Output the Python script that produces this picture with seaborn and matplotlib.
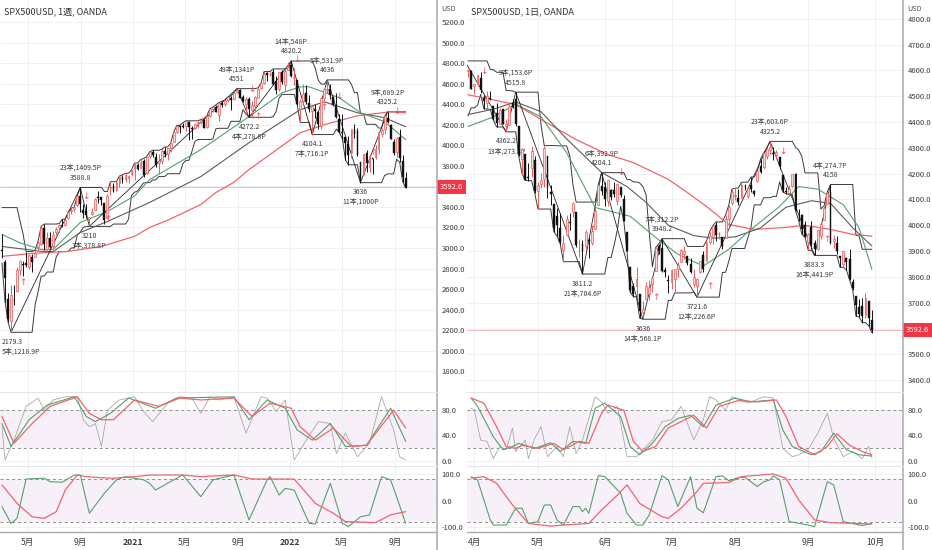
import numpy as np
import pandas as pd
import matplotlib
matplotlib.use("Agg")
import matplotlib.pyplot as plt
import matplotlib.transforms as mtransforms
from matplotlib.lines import Line2D
import seaborn as sns

sns.set_style("white")
plt.rcParams["font.family"] = ["Noto Sans CJK JP", "DejaVu Sans"]
plt.rcParams["axes.unicode_minus"] = False

# ------------------ weekly chart (left) ------------------ #
w_start = "2020-03-02"
w_open = [2974, 2863, 2508, 2290, 2498, 2578, 2782, 2846, 2854, 2815,
          2915, 2913, 3005, 3038, 3199, 2994, 3094, 3018, 3155, 3205,
          3224, 3219, 3289, 3356, 3380, 3419, 3509, 3370, 3364, 3285,
          3333, 3367, 3500, 3494, 3441, 3296, 3584, 3600, 3566, 3634,
          3694, 3675, 3684, 3723, 3764, 3803, 3781, 3844, 3732, 3892,
          3939, 3885, 3830, 3844, 3943, 3916, 3969, 4034, 4125, 4183,
          4185, 4192, 4228, 4169, 4170, 4216, 4229, 4248, 4173, 4284,
          4356, 4373, 4296, 4409, 4406, 4438, 4461, 4450, 4514, 4535,
          4474, 4402, 4450, 4348, 4385, 4463, 4553, 4610, 4701, 4689,
          4712, 4628, 4548, 4710, 4587, 4733, 4779, 4655, 4632, 4357,
          4431, 4505, 4413, 4332, 4354, 4328, 4188, 4462, 4541, 4547,
          4474, 4385, 4255, 4130, 4081, 4013, 3920, 4151, 4135, 3838,
          3715, 3920, 3792, 3880, 3883, 3965, 4112, 4155, 4270, 4195,
          4034, 3930, 4083, 3849, 3682]
w_high = [3137, 2882, 2562, 2637, 2641, 2818, 2880, 2870, 2965, 2933,
          2945, 2981, 3068, 3211, 3233, 3156, 3155, 3165, 3200, 3238,
          3280, 3272, 3352, 3387, 3399, 3509, 3588.8, 3425, 3428, 3306,
          3393, 3486, 3550, 3493, 3441, 3530, 3645, 3628, 3645, 3701,
          3712, 3727, 3711, 3760, 3827, 3824, 3860, 3871, 3889, 3935,
          3951, 3928, 3915, 3960, 3983, 3978, 4020, 4130, 4191, 4195,
          4218, 4238, 4236, 4186, 4219, 4234, 4250, 4258, 4286, 4355,
          4372, 4393, 4415, 4429, 4441, 4468, 4480, 4513, 4551, 4549,
          4493, 4466, 4465, 4429, 4475, 4559, 4608, 4718, 4715, 4717,
          4743, 4672, 4713, 4731, 4740, 4808, 4820.2, 4749, 4632, 4453,
          4595, 4590, 4490, 4386, 4402, 4329, 4465, 4546, 4636, 4593,
          4478, 4512, 4308, 4307, 4081, 4091, 4158, 4204, 4168, 3838,
          3913, 3950, 3918, 3880, 3999, 4140, 4167, 4280, 4325.2, 4203,
          4062, 4076, 4159, 3906, 3736]
w_low = [2901, 2478, 2280, 2179.3, 2447, 2575, 2740, 2727, 2816, 2797,
         2766, 2913, 2985, 3032, 2984, 2965, 3004, 3000, 3127, 3153,
         3200, 3210, 3284, 3327, 3355, 3411, 3349, 3293, 3292, 3210,
         3324, 3366, 3440, 3417, 3233, 3280, 3512, 3543, 3555, 3595,
         3634, 3647, 3636, 3700, 3663, 3760, 3778, 3695, 3725, 3880,
         3885, 3789, 3723, 3818, 3886, 3853, 3935, 4034, 4119, 4118,
         4164, 4143, 4056, 4061, 4160, 4168, 4208, 4165, 4165, 4278,
         4321, 4323, 4233, 4368, 4386, 4424, 4347, 4442, 4512, 4457,
         4424, 4305, 4272.2, 4278, 4329, 4460, 4551, 4595, 4630, 4672,
         4585, 4495, 4532, 4600, 4531, 4733, 4662, 4582, 4395, 4222,
         4405, 4401, 4326, 4104.1, 4267, 4157, 4161, 4424, 4506, 4450,
         4381, 4267, 4124, 4062, 3859, 3810, 3875, 4074, 3900, 3636,
         3705, 3740, 3742, 3721, 3863, 3910, 4079, 4112, 4218, 4057,
         3907, 3883, 3837, 3647, 3584]
w_close = [2972, 2711, 2305, 2541, 2489, 2790, 2875, 2837, 2831, 2930,
           2864, 2955, 3044, 3194, 3041, 3098, 3009, 3130, 3185, 3225,
           3216, 3271, 3351, 3373, 3397, 3508, 3427, 3341, 3319, 3298,
           3348, 3477, 3484, 3465, 3270, 3509, 3585, 3558, 3638, 3699,
           3663, 3709, 3703, 3756, 3825, 3768, 3841, 3714, 3887, 3934,
           3907, 3811, 3842, 3943, 3913, 3974, 4019, 4129, 4185, 4180,
           4181, 4233, 4174, 4156, 4204, 4230, 4247, 4166, 4281, 4352,
           4370, 4327, 4412, 4395, 4437, 4468, 4442, 4509, 4535, 4458,
           4433, 4455, 4357, 4391, 4471, 4545, 4605, 4697, 4683, 4698,
           4595, 4538, 4712, 4620, 4726, 4766, 4677, 4663, 4398, 4432,
           4501, 4419, 4349, 4385, 4329, 4204, 4463, 4543, 4546, 4488,
           4392, 4272, 4132, 4123, 4024, 3901, 4158, 4109, 3901, 3675,
           3911, 3825, 3899, 3863, 3962, 4130, 4145, 4280, 4228, 4058,
           3924, 4067, 3873, 3693, 3592.6]

w_chan_hi = ([3393] * 6 + [3259, 3137] + [2965] * 3 + [2981, 3068, 3211] + [3233] * 5
             + [3238, 3280, 3280, 3352, 3387, 3399, 3509] + [3588.8] * 8 + [3550, 3550]
             + [3645] * 3 + [3701, 3712, 3727, 3727, 3760, 3827, 3827, 3860, 3871, 3889,
                             3935, 3951, 3951, 3951, 3960, 3983, 3983, 4020, 4130, 4191,
                             4195, 4218, 4238] + [4238] * 4
             + [4250, 4258, 4286, 4355, 4372, 4393, 4415, 4429, 4441, 4468, 4480, 4513]
             + [4551] * 7 + [4559, 4608] + [4718] * 3 + [4743] * 6 + [4820.2] * 8
             + [4749, 4632, 4595, 4595] + [4636] * 8
             + [4593, 4512, 4512, 4308, 4307, 4204, 4204, 4204, 4204, 4168, 4167, 4280]
             + [4325.2] * 7)
w_chan_lo = ([2855, 2478, 2280] + [2179.3] * 8 + [2447, 2575, 2727, 2727] + [2766] * 3
             + [2913] + [2965] * 4 + [3000, 3000, 3127, 3153, 3200, 3210] + [3210] * 8
             + [3233] * 5 + [3280, 3512, 3543, 3555, 3595, 3634, 3636, 3636, 3663, 3663]
             + [3695] * 3 + [3723] * 5 + [3818, 3853, 3853, 3935, 4034] + [4056] * 5
             + [4061, 4160] + [4165] * 4 + [4233] * 4 + [4347, 4305] + [4272.2] * 8
             + [4278, 4329, 4460] + [4495] * 5 + [4395] + [4222] * 4 + [4104.1] * 8
             + [4157, 4124, 4062, 3859] + [3810] * 4 + [3636] * 8 + [3705]
             + [3721] * 3 + [3863, 3837, 3647, 3584])

w_ma_red_idx = [0, 10, 22, 33, 44, 49, 55, 66, 71, 77, 82, 88, 99, 107, 118, 129, 134]
w_ma_red = [2918, 2947, 2967, 3015, 3113, 3200, 3270, 3423, 3540, 3640, 3763, 3889,
            4122, 4200, 4287, 4326, 4316]
w_ma_green_idx = [0, 6, 13, 17, 26, 35, 44, 49, 66, 82, 93, 99, 102, 112, 119, 127, 134]
w_ma_green = [3132, 3050, 2986, 2985, 3249, 3355, 3507, 3666, 3957, 4278, 4511, 4569,
              4569, 4462, 4316, 4230, 4054]
w_ma_gray_idx = [0, 13, 17, 26, 35, 49, 66, 82, 99, 107, 118, 127, 134]
w_ma_gray = [3015, 2967, 2965, 3151, 3258, 3443, 3695, 4025, 4346, 4423, 4316, 4268, 4180]

w_piv_idx = [3, 26, 29, 78, 82, 96, 103, 108, 119, 128]
w_piv_px = [2179.3, 3588.8, 3210, 4551, 4272.2, 4820.2, 4104.1, 4636, 3636, 4325.2]
w_piv_txt = ["2179.3\n5本,1218.9P", "23本,1409.5P\n3588.8", "3210\n3本,378.8P",
             "49本,1341P\n4551", "4272.2\n4本,278.8P", "14本,548P\n4820.2",
             "4104.1\n7本,716.1P", "5本,531.9P\n4636", "3636\n11本,1000P",
             "9本,689.2P\n4325.2"]
w_up_idx = [7, 35, 85, 107, 123]
w_up_px = [2666, 3278, 4278, 4365, 3928]
w_dn_idx = [28, 83, 98, 112, 131]
w_dn_px = [3501, 4540, 4831, 4472, 4326]

w_k1_red_idx = [0, 4, 10, 16, 25, 29, 33, 37, 44, 52, 59, 66, 77, 83, 89, 96, 99, 104,
                110, 116, 121, 130, 134]
w_k1_red = [69, 27, 58, 85, 100, 74, 64, 64, 95, 85, 98, 95, 98, 69, 90, 82, 53, 32, 51,
            22, 24, 79, 51]
w_k1_green_idx = [0, 3, 9, 15, 24, 28, 31, 36, 42, 51, 58, 77, 82, 88, 94, 98, 103, 109,
                  114, 121, 129, 134]
w_k1_green = [58, 22, 64, 87, 100, 69, 61, 74, 98, 82, 98, 100, 64, 95, 82, 48, 32, 58,
              22, 24, 82, 30]
w_k1_gray_idx = [0, 1, 4, 8, 12, 14, 17, 21, 25, 27, 29, 31, 33, 35, 39, 44, 47, 50, 55,
                 59, 63, 66, 69, 72, 77, 81, 86, 88, 91, 94, 97, 101, 105, 109, 111, 114,
                 118, 122, 126, 130, 132, 134]
w_k1_gray = [53, 1, 32, 85, 98, 79, 95, 100, 100, 64, 53, 58, 22, 79, 95, 100, 77, 61, 90,
             100, 98, 74, 100, 95, 100, 43, 100, 98, 77, 95, 1, 32, 61, 58, 11, 43, 6, 27,
             100, 48, 6, 1]
w_k2_red_idx = [0, 5, 10, 14, 18, 21, 25, 28, 33, 37, 44, 49, 60, 66, 77, 83, 97, 104,
                110, 114, 124, 129, 134]
w_k2_red = [59, -10, -60, -66, -41, 40, 96, 90, 86, 84, 90, 96, 96, 90, 96, 81, 81, -10,
            -47, -78, -82, -53, -41]
w_k2_green_idx = [0, 3, 5, 8, 14, 16, 20, 24, 26, 29, 34, 38, 41, 47, 49, 51, 57, 60, 66,
                  70, 77, 82, 88, 89, 92, 94, 97, 99, 102, 104, 109, 113, 115, 119, 122,
                  126, 129, 131, 134]
w_k2_green = [-22, -85, -66, 81, 84, 71, 69, 96, 96, -47, 28, 78, 90, 78, 65, 40, 78, 96,
              15, 78, 96, -72, 78, 90, 21, 46, 40, -10, -85, -87, 65, -85, -97, -60, -53,
              90, 78, 15, -85]

w_tick_dates = ["2020-05-01", "2020-09-01", "2021-01-01", "2021-05-01", "2021-09-01",
                "2022-01-01", "2022-05-01", "2022-09-01"]
w_tick_labels = ["5月", "9月", "2021", "5月", "9月", "2022", "5月", "9月"]

# ------------------ daily chart (right) ------------------ #
d_start, d_end = "2022-03-30", "2022-10-07"
d_holidays = ["2022-04-15", "2022-05-30", "2022-06-20", "2022-07-04", "2022-09-05"]
d_open = [4599, 4599, 4540, 4547, 4572, 4494, 4474, 4494, 4462, 4437,
          4394, 4449, 4385, 4390, 4472, 4489, 4385, 4255, 4278, 4187,
          4223, 4253, 4131, 4160, 4181, 4270, 4129, 4081, 4035, 3991,
          3903, 3963, 4013, 4052, 4052, 3900, 3928, 3920, 3942, 3930,
          3984, 4077, 4151, 4150, 4095, 4137, 4135, 4096, 4148, 4101,
          3974, 3838, 3763, 3765, 3733, 3665, 3715, 3733, 3774, 3821,
          3921, 3913, 3826, 3786, 3782, 3792, 3831, 3858, 3889, 3880,
          3851, 3773, 3764, 3818, 3883, 3860, 3935, 3955, 4000, 3965,
          3953, 3951, 4026, 4087, 4112, 4105, 4107, 4154, 4115, 4156,
          4133, 4171, 4228, 4225, 4270, 4290, 4280, 4273, 4266, 4195,
          4134, 4126, 4154, 4198, 4034, 4041, 4000, 3937, 3994, 3930,
          3909, 3960, 4022, 4083, 4128, 3940, 3932, 3880, 3849, 3875,
          3871, 3782, 3727, 3682, 3686, 3651, 3707, 3633]
d_high = [4604, 4603, 4548, 4583, 4593, 4504, 4522, 4521, 4464, 4472,
          4453, 4452, 4411, 4471, 4489, 4515.8, 4386, 4299, 4278, 4241,
          4309, 4270, 4169, 4201, 4308, 4270, 4158, 4081, 4068, 4049,
          3964, 4038, 4046, 4090, 4052, 3945, 3944, 3982, 3955, 3999,
          4075, 4158, 4204.1, 4166, 4177, 4142, 4168, 4164, 4150, 4119,
          3974, 3839, 3778, 3837, 3733, 3708, 3779, 3789, 3802, 3913,
          3928, 3948.2, 3837, 3808, 3829, 3832, 3859, 3910, 3918, 3880,
          3874, 3829, 3796, 3863, 3902, 3939, 3975, 3999, 4013, 3975,
          3953, 4040, 4078, 4140, 4144, 4140, 4167, 4161, 4152, 4187,
          4137, 4211, 4257, 4280, 4301, 4325.2, 4302, 4292, 4266, 4196,
          4150, 4156, 4200, 4203, 4063, 4044, 4015, 3970, 4018, 3942,
          3987, 4010, 4076, 4130, 4158, 3961, 3959, 3880, 3900, 3876,
          3907, 3790, 3727, 3715, 3717, 3736, 3707, 3672]
d_low = [4573, 4530, 4507, 4539, 4514, 4452, 4450, 4485, 4408, 4381,
         4392, 4392, 4362.2, 4390, 4455, 4386, 4267, 4200, 4175, 4173,
         4188, 4124, 4063, 4145, 4148, 4107, 4077, 3975, 3958, 3928,
         3859, 3958, 3983, 4033, 3914, 3876, 3811.2, 3906, 3875, 3925,
         3984, 4077, 4118, 4074, 4074, 4098, 4109, 4080, 4110, 4017,
         3900, 3740, 3724, 3723, 3640, 3636, 3715, 3709, 3743, 3821,
         3889, 3820, 3800, 3738, 3752, 3742, 3799, 3858, 3869, 3847,
         3814, 3759, 3721.6, 3817, 3818, 3860, 3929, 3927, 3939, 3946,
         3910, 3951, 3992, 4079, 4097, 4079, 4107, 4135, 4107, 4129,
         4112, 4168, 4201, 4219, 4256, 4277, 4253, 4261, 4218, 4129,
         4123, 4119, 4147, 4057, 4017, 3965, 3954, 3903, 3907, 3883.3,
         3906, 3945, 4022, 4083, 3927, 3912, 3888, 3837, 3838, 3827,
         3789, 3749, 3648, 3644, 3623, 3640, 3611, 3584]
d_close = [4602, 4530, 4546, 4583, 4525, 4481, 4500, 4488, 4413, 4397,
           4447, 4392, 4391, 4463, 4460, 4394, 4272, 4296, 4175, 4183,
           4287, 4132, 4155, 4175, 4300, 4147, 4123, 3991, 4001, 3935,
           3930, 4024, 4008, 4088, 3923, 3901, 3901, 3974, 3941, 3979,
           4057, 4158, 4132, 4101, 4176, 4109, 4121, 4161, 4116, 4018,
           3901, 3750, 3735, 3790, 3667, 3675, 3765, 3760, 3796, 3912,
           3900, 3821, 3819, 3785, 3825, 3831, 3845, 3903, 3899, 3855,
           3819, 3801, 3790, 3863, 3831, 3937, 3960, 3999, 3962, 3967,
           3921, 4024, 4072, 4130, 4119, 4091, 4155, 4152, 4145, 4140,
           4122, 4210, 4207, 4280, 4297, 4305, 4275, 4284, 4228, 4138,
           4128, 4141, 4199, 4058, 4031, 3986, 3955, 3967, 3924, 3909,
           3980, 4006, 4067, 4125, 3932, 3946, 3901, 3873, 3899, 3856,
           3790, 3758, 3693, 3655, 3647, 3720, 3640, 3592.6]

d_chan_hi = ([4637] * 7 + [4604, 4603] + [4593] * 3 + [4522, 4522, 4521] + [4515.8] * 8
             + [4386, 4308] + [4309] * 3 + [4308] * 4 + [4270, 4158] + [4090] * 7
             + [4158] + [4204.1] * 8
             + [4177, 4177, 4168, 4168, 4164, 4150, 4119, 3974, 3839, 3913, 3928]
             + [3948.2] * 8 + [3918] * 6 + [3939, 3975, 3999] + [4013] * 3
             + [4040, 4078, 4140, 4144, 4144] + [4167] * 3
             + [4187, 4187, 4211, 4257, 4280, 4301] + [4325.2] * 8
             + [4302, 4292, 4266] + [4203] * 5 + [4063, 4076, 4130] + [4158] * 8
             + [3961, 3959] + [3907] * 4)
d_chan_lo = ([4424, 4455, 4455, 4466, 4507, 4452, 4450, 4450, 4408] + [4381] * 3
             + [4362.2] * 4 + [4267, 4200, 4175, 4173, 4173, 4124] + [4063] * 5
             + [3975, 3958, 3928] + [3859] * 6 + [3811.2] * 8
             + [3875, 3875, 3925, 3984, 4074, 4017, 3900, 3740, 3724, 3723, 3640]
             + [3636] * 8 + [3709, 3709] + [3738] * 6 + [3742] + [3721.6] * 8
             + [3817, 3818, 3860] + [3910] * 5 + [3951, 3992] + [4079] * 3 + [4107] * 3
             + [4112, 4112, 4168, 4129, 4123, 4119, 4119, 4057, 4017, 3965, 3954, 3903, 3903]
             + [3883.3] * 8
             + [3837, 3837, 3827, 3789, 3749, 3648, 3644, 3623, 3623, 3611, 3584])

d_ma_red_idx = [0, 15, 24, 34, 44, 52, 63, 69, 75, 82, 90, 100, 106, 114, 121, 127]
d_ma_red = [4506, 4468, 4403, 4332, 4274, 4243, 4178, 4127, 4073, 4003, 3984, 3992, 4000,
            3984, 3965, 3958]
d_ma_gray_idx = [0, 8, 15, 23, 31, 42, 50, 56, 63, 71, 77, 84, 92, 100, 108, 114, 121, 127]
d_ma_gray = [4429, 4450, 4478, 4440, 4335, 4205, 4150, 4089, 4000, 3960, 3950, 3955, 3990,
             4070, 4095, 4085, 3990, 3920]
d_ma_green_idx = [0, 8, 15, 23, 31, 40, 51, 59, 66, 74, 82, 89, 98, 104, 110, 118, 123, 127]
d_ma_green = [4383, 4420, 4470, 4420, 4282, 4069, 4035, 3953, 3888, 3842, 3907, 3984, 4073,
              4150, 4140, 4080, 3990, 3830]

d_piv_idx = [-1, 12, 15, 36, 42, 55, 61, 72, 95, 109, 114]
d_piv_px = [4636, 4362.2, 4515.8, 3811.2, 4204.1, 3636, 3948.2, 3721.6, 4325.2, 3883.3, 4158]
d_piv_txt = ["", "4362.2\n13本,273.8P", "9本,153.6P\n4515.8", "3811.2\n21本,704.6P",
             "6本,392.9P\n4204.1", "3636\n14本,568.1P", "7本,312.2P\n3948.2",
             "3721.6\n12本,226.6P", "23本,603.6P\n4325.2", "3883.3\n16本,441.9P",
             "4本,274.7P\n4158"]
d_up_idx = [39, 59, 76, 113]
d_up_px = [3984, 3722, 3764, 3946]
d_dn_idx = [5, 48, 99]
d_dn_px = [4595, 4205, 4287]

d_k1_red_idx = [1, 5, 9, 12, 15, 17, 22, 27, 30, 35, 38, 42, 44, 49, 52, 55, 59, 63, 67,
                71, 75, 79, 85, 91, 97, 100, 104, 109, 113, 116, 120, 124, 127]
d_k1_red = [98, 90, 53, 22, 19, 24, 19, 27, 17, 30, 27, 74, 87, 79, 30, 14, 22, 51, 61, 71,
            51, 85, 94, 92, 95, 69, 22, 9, 22, 42, 24, 14, 9]
d_k1_green_idx = [1, 3, 8, 11, 14, 16, 21, 26, 29, 33, 37, 40, 43, 48, 51, 54, 58, 62, 66,
                  70, 74, 78, 84, 89, 96, 99, 102, 108, 111, 115, 119, 123, 127]
d_k1_green = [98, 85, 37, 17, 22, 27, 19, 28, 14, 30, 27, 82, 90, 69, 22, 9, 27, 53, 66, 71,
              53, 87, 98, 92, 95, 48, 22, 9, 14, 43, 17, 9, 7]
d_k1_gray_idx = [1, 2, 4, 6, 8, 10, 12, 14, 15, 18, 19, 21, 23, 25, 28, 30, 32, 34, 36, 40,
                 42, 44, 47, 50, 53, 55, 58, 61, 64, 67, 71, 74, 76, 78, 81, 83, 88, 93, 96,
                 99, 102, 104, 107, 110, 113, 115, 118, 121, 124, 126, 127]
d_k1_gray = [82, 79, 32, 30, 3, 22, 17, 51, 14, 32, 3, 35, 53, 6, 22, 6, 53, 11, 32, 100,
             92, 74, 85, 6, 6, 17, 32, 61, 64, 85, 32, 64, 100, 95, 79, 100, 90, 100, 98, 19,
             6, 9, 17, 43, 74, 35, 6, 14, 3, 22, 5]
d_k2_red_idx = [1, 5, 9, 14, 19, 26, 30, 38, 42, 47, 50, 54, 61, 63, 67, 72, 74, 82, 86, 96,
                100, 104, 109, 114, 127]
d_k2_red = [84, 90, 65, -16, -85, -95, -91, -85, -35, 21, 59, -10, -60, -66, -28, 34, 65, 68,
            90, 100, 84, 3, -72, -82, -87]
d_k2_green_idx = [1, 3, 7, 8, 12, 15, 17, 19, 22, 24, 26, 28, 30, 33, 35, 36, 37, 38, 41, 43,
                  48, 50, 53, 55, 57, 61, 63, 66, 70, 72, 74, 78, 80, 82, 85, 87, 91, 93, 95,
                  96, 98, 101, 107, 109, 113, 115, 118, 124, 127]
d_k2_green = [90, 78, -72, -91, -91, -28, -28, -85, -78, -16, -16, -72, -91, -22, -22, -41,
              -28, -47, 94, 90, 28, -47, -91, -91, -53, 94, 78, -22, 90, -28, -45, 90, 93, 75,
              86, 88, 53, 71, 78, 93, 78, -78, -91, -97, 71, 59, -78, -93, -85]

d_tick_months = ["2022-04-01", "2022-05-01", "2022-06-01", "2022-07-01", "2022-08-01",
                 "2022-09-01", "2022-10-01"]
d_tick_labels = ["4月", "5月", "6月", "7月", "8月", "9月", "10月"]

last_price = 3592.6

# ------------------ styles ------------------ #
UP_EDGE = "#ee5b5b"
UP_FACE = "#fcd6d6"
DOWN = "#111111"
RED = "#f0646e"
GREEN = "#55a06c"
GRAY = "#5c5c5c"
CHAN = "#3a3a3a"
OSC_GRAY = "#a8a8a8"
GRID = "#eff0f3"
TXT = "#3b3b3b"
SHADE = "#f8f0f8"
BORDER = "#a7aab2"


def draw_candles(ax, o, h, l, c, width, min_body):
    o, h, l, c = map(np.asarray, (o, h, l, c))
    x = np.arange(len(o))
    up = c >= o
    ax.vlines(x[up], l[up], h[up], color=UP_EDGE, lw=0.7, zorder=3)
    ax.vlines(x[~up], l[~up], h[~up], color=DOWN, lw=0.7, zorder=3)
    lo = np.minimum(o, c)
    hh = np.maximum(np.abs(c - o), min_body)
    ax.bar(x[up], hh[up], width, bottom=lo[up], color=UP_FACE, edgecolor=UP_EDGE,
           linewidth=0.5, zorder=4)
    ax.bar(x[~up], hh[~up], width, bottom=lo[~up], color=DOWN, edgecolor=DOWN,
           linewidth=0.3, zorder=4)


def draw_line(ax, xs, ys, color, lw, z=2):
    sns.lineplot(x=xs, y=ys, ax=ax, color=color, linewidth=lw, sort=False,
                 estimator=None, legend=False, zorder=z)


def draw_pivots(ax, idx, px, txt):
    ax.plot(idx, px, color="#262626", lw=0.6, zorder=2)
    for k in range(len(idx)):
        if not txt[k]:
            continue
        prev = px[k - 1] if k > 0 else px[k + 1]
        high = px[k] > prev
        dy = 4 if high else -4
        # a label right at the left edge is pinned to the edge instead of centred
        near_edge = idx[k] < 5
        ax.annotate(txt[k], (idx[k], px[k]), xytext=(-7 if near_edge else 0, dy),
                    textcoords="offset points", ha="left" if near_edge else "center",
                    va="bottom" if high else "top", fontsize=5.0, color=TXT,
                    linespacing=1.3, zorder=2.6, annotation_clip=False)


def draw_arrows(ax, up_i, up_p, dn_i, dn_p):
    for i, p in zip(up_i, up_p):
        ax.text(i, p, "↑", ha="center", va="center", color="#f05252", fontsize=6.5,
                family="DejaVu Sans", zorder=5)
    for i, p in zip(dn_i, dn_p):
        ax.text(i, p, "↓", ha="center", va="center", color="#f05252", fontsize=6.5,
                family="DejaVu Sans", zorder=5)


def style_axis(ax, xlim, ylim, yticks, ylabels, xticks):
    ax.set_xlim(*xlim)
    ax.set_ylim(*ylim)
    ax.yaxis.tick_right()
    ax.set_yticks(yticks)
    ax.set_yticklabels(ylabels)
    ax.set_xticks(xticks)
    ax.tick_params(axis="y", length=0, pad=3.5, labelsize=5.5, labelcolor=TXT)
    ax.tick_params(axis="x", length=0, pad=4, labelsize=6.2, labelcolor=TXT,
                   labelbottom=False)
    ax.grid(True, color=GRID, lw=0.7)
    ax.set_axisbelow(True)
    for s in ax.spines.values():
        s.set_visible(False)
    ax.set_xlabel("")
    ax.set_ylabel("")


def price_labels(ticks, hide):
    return ["" if abs(t - hide) < 60 else f"{t:.1f}" for t in ticks]


# ------------------ figure ------------------ #
fig = plt.figure(figsize=(9.32, 5.5), dpi=100)
fig.patch.set_facecolor("white")

W, H = 932.0, 550.0
lx, lw_ = 0.0, 437 / W
rx, rw_ = 467 / W, 436 / W
rows = [(1 - 392 / H, 392 / H), (1 - 466 / H, 74 / H), (1 - 532 / H, 65 / H)]

# tick positions
w_t0 = pd.Timestamp(w_start)
w_ticks = [(pd.Timestamp(d) - w_t0).days / 7 for d in w_tick_dates]
d_dates = pd.bdate_range(d_start, d_end)
d_dates = d_dates[~d_dates.isin(pd.to_datetime(d_holidays))]
d_ticks = [int(np.argmax(d_dates >= pd.Timestamp(m))) for m in d_tick_months]

charts = [
    dict(x=lx, w=lw_, xlim=(-0.66, 144.4), ylim=(1598, 5414),
         yt=list(range(1800, 5201, 200)), xt=w_ticks, xl=w_tick_labels,
         o=w_open, h=w_high, l=w_low, c=w_close, width=0.62, minb=6,
         chi=w_chan_hi, clo=w_chan_lo,
         mas=[(w_ma_red_idx, w_ma_red, RED, 0.9), (w_ma_gray_idx, w_ma_gray, GRAY, 0.8),
              (w_ma_green_idx, w_ma_green, GREEN, 0.8)],
         piv=(list(w_piv_idx), list(w_piv_px), list(w_piv_txt)),
         arr=(w_up_idx, w_up_px, w_dn_idx, w_dn_px),
         k1=[(w_k1_gray_idx, w_k1_gray, OSC_GRAY, 0.6), (w_k1_green_idx, w_k1_green, GREEN, 0.8),
             (w_k1_red_idx, w_k1_red, RED, 0.9)],
         k2=[(w_k2_green_idx, w_k2_green, GREEN, 0.8), (w_k2_red_idx, w_k2_red, RED, 0.9)],
         title="SPX500USD, 1週, OANDA"),
    dict(x=rx, w=rw_, xlim=(-0.31, 136.8), ylim=(3354, 4873),
         yt=list(range(3400, 4801, 100)), xt=d_ticks, xl=d_tick_labels,
         o=d_open, h=d_high, l=d_low, c=d_close, width=0.6, minb=2,
         chi=d_chan_hi, clo=d_chan_lo,
         mas=[(d_ma_red_idx, d_ma_red, RED, 0.9), (d_ma_gray_idx, d_ma_gray, GRAY, 0.8),
              (d_ma_green_idx, d_ma_green, GREEN, 0.8)],
         piv=(list(d_piv_idx), list(d_piv_px), list(d_piv_txt)),
         arr=(d_up_idx, d_up_px, d_dn_idx, d_dn_px),
         k1=[(d_k1_gray_idx, d_k1_gray, OSC_GRAY, 0.6), (d_k1_green_idx, d_k1_green, GREEN, 0.8),
             (d_k1_red_idx, d_k1_red, RED, 0.9)],
         k2=[(d_k2_green_idx, d_k2_green, GREEN, 0.8), (d_k2_red_idx, d_k2_red, RED, 0.9)],
         title="SPX500USD, 1日, OANDA"),
]

for ch in charts:
    axp = fig.add_axes([ch["x"], rows[0][0], ch["w"], rows[0][1]])
    ax1 = fig.add_axes([ch["x"], rows[1][0], ch["w"], rows[1][1]])
    ax2 = fig.add_axes([ch["x"], rows[2][0], ch["w"], rows[2][1]])

    # price pane
    style_axis(axp, ch["xlim"], ch["ylim"], ch["yt"], price_labels(ch["yt"], last_price), ch["xt"])
    bars = np.arange(len(ch["o"]))
    axp.plot(bars, ch["chi"], color=CHAN, lw=0.7, zorder=2)
    axp.plot(bars, ch["clo"], color=CHAN, lw=0.7, zorder=2)
    for xi, yi, col, lw in ch["mas"]:
        draw_line(axp, xi, yi, col, lw)
    draw_pivots(axp, *ch["piv"])
    draw_candles(axp, ch["o"], ch["h"], ch["l"], ch["c"], ch["width"], ch["minb"])
    draw_arrows(axp, *ch["arr"])
    axp.axhline(last_price, color="#f4b0b0", lw=0.6, zorder=1)
    tr = mtransforms.blended_transform_factory(axp.transAxes, axp.transData)
    axp.text(1.006, last_price, f"{last_price:.1f}", transform=tr, ha="left", va="center",
             fontsize=5.5, color="white", zorder=10,
             bbox=dict(boxstyle="square,pad=0.4", fc="#f23645", ec="none"))
    axp.text(0.009, 0.982, ch["title"], transform=axp.transAxes, ha="left", va="top",
             fontsize=6.5, color="#333333")
    axp.text(1.01, 0.977, "USD", transform=axp.transAxes, ha="left", va="center",
             fontsize=5.2, color="#555555")

    # oscillator pane 1
    style_axis(ax1, ch["xlim"], (-8.6, 107.5), [0, 40, 80], ["0.0", "40.0", "80.0"], ch["xt"])
    ax1.axhspan(20, 80, color=SHADE, zorder=0, lw=0)
    for lvl in (20, 80):
        ax1.axhline(lvl, color="#8e8e8e", lw=0.7, ls=(0, (3, 3)), zorder=1)
    for xi, yi, col, lw in ch["k1"]:
        draw_line(ax1, xi, yi, col, lw)

    # oscillator pane 2
    style_axis(ax2, ch["xlim"], (-117, 126), [-100, 0, 100], ["-100.0", "0.0", "100.0"], ch["xt"])
    ax2.axhspan(-80, 80, color=SHADE, zorder=0, lw=0)
    for lvl in (-80, 80):
        ax2.axhline(lvl, color="#8e8e8e", lw=0.7, ls=(0, (3, 3)), zorder=1)
    for xi, yi, col, lw in ch["k2"]:
        draw_line(ax2, xi, yi, col, lw)
    ax2.tick_params(axis="x", labelbottom=True)
    ax2.set_xticklabels(ch["xl"])
    for t in ax2.get_xticklabels():
        if t.get_text().isdigit():
            t.set_fontweight("bold")

# borders and pane separators
for xf in (437 / W, 903 / W):
    fig.add_artist(Line2D([xf, xf], [0, 1], color=BORDER, lw=1.1))
for x0, x1 in ((0, 437 / W), (467 / W, 903 / W)):
    fig.add_artist(Line2D([x0, x1], [1 - 532 / H] * 2, color=BORDER, lw=1.0))
    for yp in (392, 466):
        fig.add_artist(Line2D([x0, x1], [1 - yp / H] * 2, color="#e3e5ea", lw=0.8))

fig.savefig("out.png", dpi=100)
